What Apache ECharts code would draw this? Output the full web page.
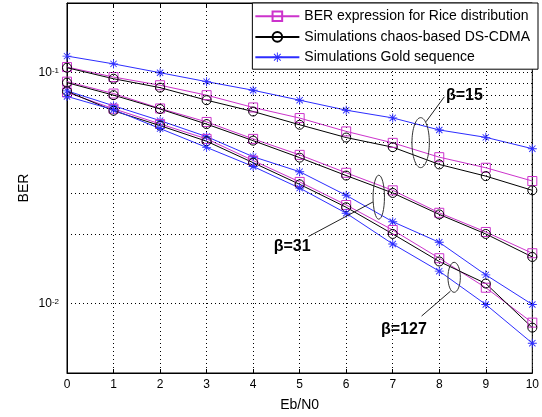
<!DOCTYPE html>
<html>
<head>
<meta charset="utf-8">
<script src="https://cdn.jsdelivr.net/npm/echarts@6/dist/echarts.min.js"></script>
<style>
html, body { margin:0; padding:0; background:#fff; }
#main { width:542px; height:417px; }
</style>
</head>
<body>
<div id="main"></div>
<script>
// Eb/N0 values
var ebn0 = [0, 1, 2, 3, 4, 5, 6, 7, 8, 9, 10];

// beta = 15
var rice15  = [0.1056, 0.0956, 0.0881, 0.0798, 0.0706, 0.0635, 0.0556, 0.0496, 0.0430, 0.0387, 0.0339];
var chaos15 = [0.1049, 0.0940, 0.0860, 0.0759, 0.0678, 0.0594, 0.0523, 0.0475, 0.0400, 0.0356, 0.0309];
var gold15  = [0.1178, 0.1090, 0.0998, 0.0913, 0.0838, 0.0759, 0.0687, 0.0636, 0.0564, 0.0524, 0.0468];
// beta = 31
var rice31  = [0.0913, 0.0811, 0.0699, 0.0611, 0.0516, 0.0440, 0.0368, 0.0309, 0.0247, 0.0204, 0.0165];
var chaos31 = [0.0904, 0.0798, 0.0695, 0.0598, 0.0507, 0.0428, 0.0358, 0.0301, 0.0243, 0.0200, 0.0159];
var gold31  = [0.0833, 0.0718, 0.0619, 0.0528, 0.0432, 0.0372, 0.0294, 0.0226, 0.0184, 0.0133, 0.0099];
// beta = 127
var rice127  = [0.0820, 0.0697, 0.0599, 0.0516, 0.0416, 0.0336, 0.0267, 0.0208, 0.0157, 0.0117, 0.00826];
var chaos127 = [0.0829, 0.0683, 0.0589, 0.0504, 0.0407, 0.0328, 0.0261, 0.0200, 0.0152, 0.0122, 0.00786];
var gold127  = [0.0788, 0.0690, 0.0572, 0.0474, 0.0392, 0.0316, 0.0246, 0.0181, 0.0138, 0.0099, 0.00673];

var legendNames = ['BER expression for Rice distribution', 'Simulations chaos-based DS-CDMA', 'Simulations Gold sequence'];

// log grid lines (matlab style minor grid)
var gridVals = [0.006, 0.007, 0.008, 0.009, 0.01, 0.02, 0.03, 0.04, 0.05, 0.06, 0.07, 0.08, 0.09, 0.1];

// annotations in data coords
var notes = [
  {text: 'β=15',  ell: [7.60, 0.0497],  rx: 8.7, ry: 25,  from: [7.715, 0.0612], to: [8.109, 0.0785],  label: [8.54, 0.0796]},
  {text: 'β=31',  ell: [6.70, 0.02885], rx: 5.7, ry: 22,  from: [6.58, 0.02754], to: [5.19, 0.01951],  label: [4.84, 0.01758]},
  {text: 'β=127', ell: [8.32, 0.01298], rx: 6.2, ry: 15,  from: [8.24, 0.0113],  to: [7.62, 0.00882],  label: [7.24, 0.00773]}
];

var MAG = '#cc33cc', BLK = '#000000', BLU = '#2d2dff';
var FONT = 'Liberation Sans, Arial, sans-serif';
var starPath = 'path://M-1,-10L1,-10L1,10L-1,10Z M-10,-1L10,-1L10,1L-10,1Z M-7.7,-6.3L-6.3,-7.7L7.7,6.3L6.3,7.7Z M6.3,-7.7L7.7,-6.3L-6.3,7.7L-7.7,6.3Z';

function pairs(ys) {
  return ebn0.map(function (x, i) { return [x, ys[i]]; });
}

function mk(kind, ys) {
  var s = {
    type: 'line', data: pairs(ys), z: 3,
    showAllSymbol: true, emphasis: {disabled: true}, animation: false
  };
  if (kind === 0) {
    s.name = legendNames[0];
    s.symbol = 'rect'; s.symbolSize = 9;
    s.lineStyle = {color: MAG, width: 1};
    s.itemStyle = {color: 'none', borderColor: MAG, borderWidth: 1};
  } else if (kind === 1) {
    s.name = legendNames[1];
    s.symbol = 'circle'; s.symbolSize = 9;
    s.lineStyle = {color: BLK, width: 1};
    s.itemStyle = {color: 'none', borderColor: BLK, borderWidth: 1};
  } else {
    s.name = legendNames[2];
    s.symbol = starPath; s.symbolSize = 9;
    s.lineStyle = {color: BLU, width: 1};
    s.itemStyle = {color: BLU};
  }
  return s;
}

var chart = echarts.init(document.getElementById('main'));

var series = [
  {
    type: 'line', name: 'grid', data: [], z: 1, silent: true,
    markLine: {
      silent: true, symbol: 'none', animation: false,
      label: {show: false},
      lineStyle: {color: '#000', width: 1, type: [1, 3]},
      emphasis: {disabled: true},
      data: gridVals.map(function (v) { return {yAxis: v}; })
    }
  },
  {
    type: 'line', name: 'arrows', data: [], z: 4, silent: true,
    markLine: {
      silent: true, symbol: ['none', 'arrow'], symbolSize: [0, 11], animation: false,
      label: {show: false},
      lineStyle: {color: '#222', width: 1, type: 'solid'},
      emphasis: {disabled: true},
      data: notes.map(function (n) { return [{coord: n.from}, {coord: n.to}]; })
    }
  },
  mk(0, rice15), mk(1, chaos15), mk(2, gold15),
  mk(0, rice31), mk(1, chaos31), mk(2, gold31),
  mk(0, rice127), mk(1, chaos127), mk(2, gold127)
];

var option = {
  backgroundColor: '#fff',
  animation: false,
  textStyle: {fontFamily: FONT},
  grid: {left: 67, right: 8, top: 3, bottom: 43, show: true, borderColor: '#000', borderWidth: 1, backgroundColor: '#fff'},
  legend: {
    data: legendNames,
    orient: 'vertical',
    right: 4, top: 3,
    backgroundColor: '#fff',
    borderColor: '#000', borderWidth: 1,
    padding: [6, 8, 5, 2],
    itemWidth: 44, itemHeight: 12, itemGap: 6,
    textStyle: {fontSize: 14, color: '#000', fontFamily: FONT},
    selectedMode: false
  },
  xAxis: [{
    type: 'value', min: 0, max: 10, interval: 1,
    name: 'Eb/N0', nameLocation: 'middle', nameGap: 25,
    nameTextStyle: {fontSize: 14, color: '#000'},
    axisLine: {lineStyle: {color: '#000'}},
    axisTick: {inside: true, length: 4, lineStyle: {color: '#000'}},
    axisLabel: {fontSize: 12, color: '#000', margin: 6},
    splitLine: {show: true, lineStyle: {color: '#000', width: 1, type: [1, 3]}}
  }, {
    type: 'value', min: 0, max: 10, interval: 1, position: 'top',
    axisLine: {lineStyle: {color: '#000'}},
    axisTick: {inside: true, length: 4, lineStyle: {color: '#000'}},
    axisLabel: {show: false},
    splitLine: {show: false}
  }],
  yAxis: {
    type: 'log', logBase: 10, min: 0.005, max: 0.2,
    name: 'BER', nameLocation: 'middle', nameGap: 36, nameRotate: 90,
    nameMoveOverlap: false,
    nameTextStyle: {fontSize: 14, color: '#000'},
    axisLine: {show: true, lineStyle: {color: '#000'}},
    axisTick: {show: false},
    splitLine: {show: false},
    axisLabel: {
      margin: 8, color: '#000', fontSize: 12, hideOverlap: false,
      showMinLabel: true, showMaxLabel: true,
      formatter: function (v) {
        var e = Math.round(Math.log10(v));
        if (Math.abs(Math.log10(v) - e) < 1e-6) return '10{s|' + e + '}';
        return '';
      },
      rich: {
        s: {fontSize: 8, color: '#000', verticalAlign: 'top', lineHeight: 8, padding: [0, 0, 6, 0]}
      }
    }
  },
  series: series
};

chart.setOption(option);

// ellipses and beta labels placed through the axes
var g = [];
notes.forEach(function (n) {
  var c = chart.convertToPixel({gridIndex: 0}, n.ell);
  var t = chart.convertToPixel({gridIndex: 0}, n.label);
  g.push({
    type: 'ellipse', z: 100,
    shape: {cx: c[0], cy: c[1], rx: n.rx, ry: n.ry},
    style: {fill: 'none', stroke: '#333', lineWidth: 1}
  });
  g.push({
    type: 'text', z: 100, x: t[0], y: t[1],
    style: {text: n.text, fill: '#000', font: 'bold 16px "Liberation Sans", Arial, sans-serif', align: 'center', verticalAlign: 'middle'}
  });
});
chart.setOption({graphic: g});
</script>
</body>
</html>
